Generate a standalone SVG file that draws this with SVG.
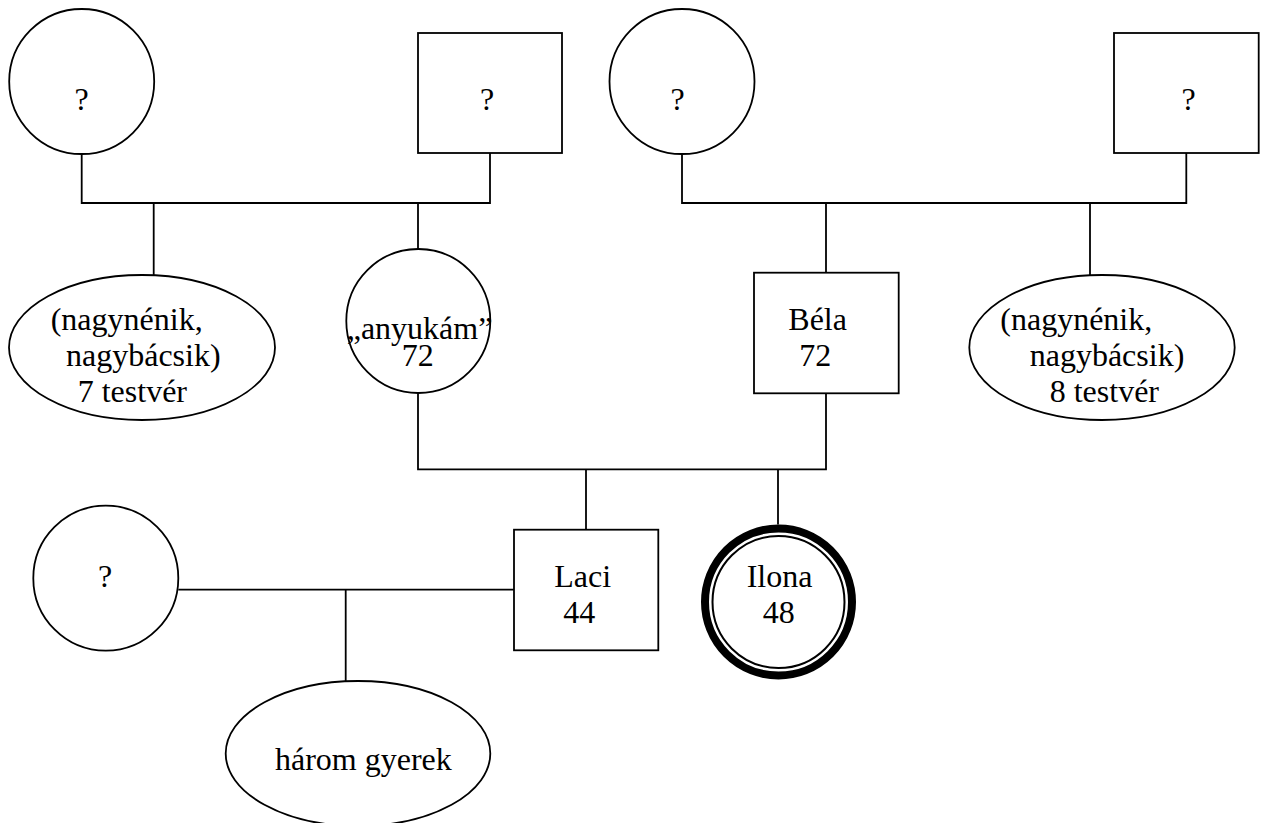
<svg xmlns="http://www.w3.org/2000/svg" width="1267" height="823" viewBox="0 0 1267 823">
  <style>
    .shape { fill: #ffffff; stroke: #000000; stroke-width: 1.8; }
    .link { fill: none; stroke: #000000; stroke-width: 1.8; }
    text { font-family: "Liberation Serif", "Times New Roman", serif; font-size: 32px; fill: #000000; }
    .c { text-anchor: middle; }
  </style>
  <rect width="1267" height="823" fill="#ffffff"/>

  <!-- connectors -->
  <g id="connectors">
    <!-- maternal grandparents and their children -->
    <path class="link" d="M81.7 154 V203 H490 V153"/>
    <path class="link" d="M153.7 203 V275"/>
    <path class="link" d="M418 203 V249.3"/>
    <!-- paternal grandparents and their children -->
    <path class="link" d="M682 154 V203 H1186.3 V153"/>
    <path class="link" d="M826 203 V272.7"/>
    <path class="link" d="M1090 203 V275"/>
    <!-- parents and their children -->
    <path class="link" d="M418 392.7 V469.3 H826 V393.3"/>
    <path class="link" d="M586 469.3 V529.7"/>
    <path class="link" d="M778 469.3 V524.5"/>
    <!-- Laci's partnership -->
    <path class="link" d="M178.3 589.7 H514"/>
    <path class="link" d="M345.7 589.7 V681"/>
  </g>

  <!-- generation 1 -->
  <g id="gm-maternal">
    <circle class="shape" cx="81.7" cy="81.5" r="72.5"/>
    <text class="c" x="81.7" y="110">?</text>
  </g>
  <g id="gf-maternal">
    <rect class="shape" x="418" y="33" width="144" height="120"/>
    <text class="c" x="487" y="110">?</text>
  </g>
  <g id="gm-paternal">
    <circle class="shape" cx="682" cy="81.5" r="72.5"/>
    <text class="c" x="677.7" y="110">?</text>
  </g>
  <g id="gf-paternal">
    <rect class="shape" x="1114" y="33" width="144.7" height="120"/>
    <text class="c" x="1188.7" y="110">?</text>
  </g>

  <!-- generation 2 -->
  <g id="siblings-maternal">
    <ellipse class="shape" cx="142" cy="347.5" rx="133" ry="72.5"/>
    <text x="50.7" y="330">(nagynénik,</text>
    <text x="66" y="366">nagybácsik)</text>
    <text x="77.7" y="402">7 testvér</text>
  </g>
  <g id="mother">
    <circle class="shape" cx="418.3" cy="321" r="72"/>
    <text x="346.7" y="339">„anyukám”</text>
    <text x="401.7" y="366">72</text>
  </g>
  <g id="bela">
    <rect class="shape" x="754" y="272.7" width="144.7" height="120.6"/>
    <text x="788.3" y="330">Béla</text>
    <text x="799.3" y="366">72</text>
  </g>
  <g id="siblings-paternal">
    <ellipse class="shape" cx="1102" cy="347.5" rx="132.7" ry="72.5"/>
    <text x="1000.3" y="330">(nagynénik,</text>
    <text x="1029.7" y="366">nagybácsik)</text>
    <text x="1049.7" y="402">8 testvér</text>
  </g>

  <!-- generation 3 -->
  <g id="partner">
    <circle class="shape" cx="105.8" cy="578.2" r="72.5"/>
    <text class="c" x="105" y="586.7">?</text>
  </g>
  <g id="laci">
    <rect class="shape" x="514" y="529.7" width="144.3" height="120.6"/>
    <text x="554.3" y="586.7">Laci</text>
    <text x="563.3" y="623.3">44</text>
  </g>
  <g id="ilona">
    <circle cx="778.5" cy="602" r="73.5" fill="#ffffff" stroke="#000000" stroke-width="8"/>
    <circle cx="778.5" cy="602" r="66" fill="none" stroke="#000000" stroke-width="2"/>
    <text x="746.7" y="586.7">Ilona</text>
    <text x="762.7" y="623.3">48</text>
  </g>

  <!-- generation 4 -->
  <g id="children">
    <ellipse class="shape" cx="358" cy="753.5" rx="132.3" ry="72.5"/>
    <text x="275" y="770">három gyerek</text>
  </g>
</svg>
